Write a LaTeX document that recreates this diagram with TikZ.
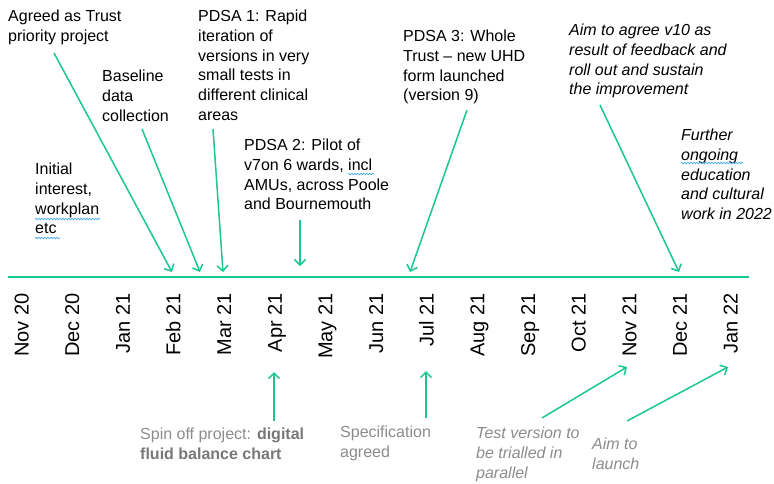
\documentclass[tikz,border=0pt]{standalone}
\usepackage{fontspec}
\setmainfont{Liberation Sans}
\usetikzlibrary{arrows.meta,decorations.pathmorphing}
\definecolor{tlgreen}{RGB}{26,199,145}
\definecolor{notegrey}{RGB}{140,140,140}
\definecolor{boldgrey}{RGB}{120,120,120}
\definecolor{squiggle}{RGB}{70,170,230}
\begin{document}
\begin{tikzpicture}[x=1pt,y=-1pt,
  line/.style={draw=tlgreen,line width=1.8pt},
  pointer/.style={draw=tlgreen,line width=1.5pt,-{Straight Barb[length=5.5pt,width=11pt,line width=1.5pt]}},
  toptext/.style={anchor=north west,inner sep=0pt,align=left,font=\fontsize{16}{19.7}\selectfont},
  toptexti/.style={toptext,font=\fontsize{16}{19.7}\selectfont\itshape},
  bottext/.style={toptext,text=notegrey},
  bottexti/.style={toptexti,text=notegrey},
  month/.style={rotate=90,anchor=base east,inner sep=0pt,font=\fontsize{20}{24}\selectfont},
  wavy/.style={draw=squiggle,line width=0.7pt,decorate,decoration={snake,amplitude=0.8pt,segment length=3pt}}
]
\useasboundingbox (0,0) rectangle (774,483);

% timeline
\coordinate (tlL) at (8,277);
\coordinate (tlR) at (749,277);
\draw[line] (tlL) -- (tlR);

% months
\foreach \m [count=\i from 0] in {Nov 20,Dec 20,Jan 21,Feb 21,Mar 21,Apr 21,May 21,Jun 21,Jul 21,Aug 21,Sep 21,Oct 21,Nov 21,Dec 21,Jan 22}{
  \node[month] (m\i) at ({21+50.65*\i+7.5},293) {\m};
}

% top texts
\node[toptext] (agreed) at (8,10) {Agreed as Trust\\priority project};
\node[toptext] (baseline) at (102,70) {Baseline\\data\\collection};
\node[toptext] (pdsa1) at (198,10) {PDSA 1: Rapid\\iteration of\\versions in very\\small tests in\\different clinical\\areas};
\node[toptext] (initial) at (35,163) {Initial\\interest,\\workplan\\etc};
\node[toptext] (pdsa2) at (244,139) {PDSA 2: Pilot of\\v7on 6 wards, incl\\AMUs, across Poole\\and Bournemouth};
\node[toptext] (pdsa3) at (403,30) {PDSA 3: Whole\\Trust -- new UHD\\form launched\\(version 9)};
\node[toptexti] (aim10) at (569,24) {Aim to agree v10 as\\result of feedback and\\roll out and sustain\\the improvement};
\node[toptexti] (further) at (681,129) {Further\\ongoing\\education\\and cultural\\work in 2022};

% spell-check squiggles
\coordinate (sq1a) at (35,219); \coordinate (sq1b) at (100,219);
\coordinate (sq2a) at (35,238); \coordinate (sq2b) at (60,238);
\coordinate (sq3a) at (348,174); \coordinate (sq3b) at (374,174);
\coordinate (sq4a) at (681,163); \coordinate (sq4b) at (743,163);
\draw[wavy] (sq1a) -- (sq1b);
\draw[wavy] (sq2a) -- (sq2b);
\draw[wavy] (sq3a) -- (sq3b);
\draw[wavy] (sq4a) -- (sq4b);

% bottom texts
\node[bottext] (spin) at (140,428) {Spin off project: \textbf{\color{boldgrey}digital}\\\textbf{\color{boldgrey}fluid balance chart}};
\node[bottext] (spec) at (340,426) {Specification\\agreed};
\node[bottexti] (test) at (476,427) {Test version to\\be trialled in\\parallel};
\node[bottexti] (aimlaunch) at (592,438) {Aim to\\launch};

% arrow end coordinates
\coordinate (s1) at (54,53);   \coordinate (e1) at (172,272);
\coordinate (s2) at (142,129); \coordinate (e2) at (200,272);
\coordinate (s3) at (213,129); \coordinate (e3) at (223,272);
\coordinate (s4) at (300,220); \coordinate (e4) at (300,266);
\coordinate (s5) at (467,110); \coordinate (e5) at (410,272);
\coordinate (s6) at (600,105); \coordinate (e6) at (679,272);
\coordinate (s7) at (274,421); \coordinate (e7) at (274,372);
\coordinate (s8) at (426,418); \coordinate (e8) at (426,371);
\coordinate (s9) at (542,418); \coordinate (e9) at (627,367);
\coordinate (s10) at (627,421); \coordinate (e10) at (728,367);
\foreach \k in {1,...,10}{\draw[pointer] (s\k) -- (e\k);}
\end{tikzpicture}
\end{document}
